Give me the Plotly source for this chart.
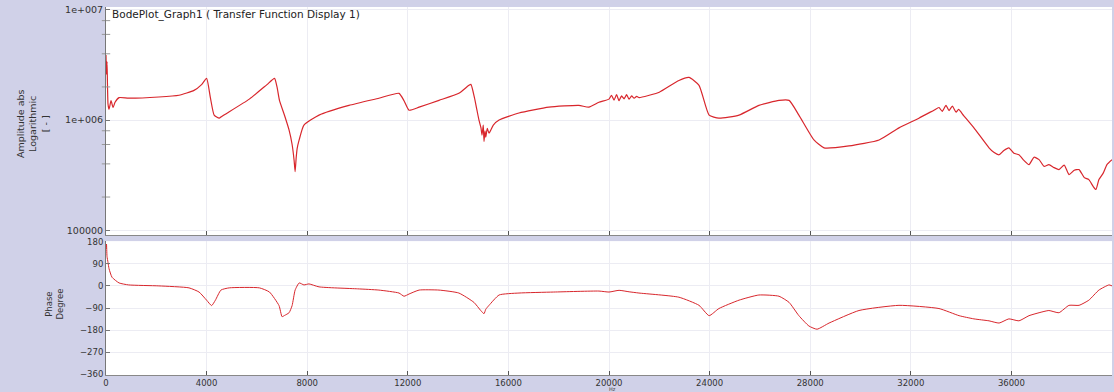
import plotly.graph_objects as go

# ---- magnitude response (linear frequency axis, log amplitude) ----
freq_mag = [
    0, 20, 40, 80, 120, 200, 280, 360, 520, 900,
    2100, 2900, 3500, 3800, 4000, 4150, 4300, 4500, 4600, 5700,
    6400, 6700, 6800, 6900, 7100, 7280, 7400, 7480, 7520, 7560,
    7600, 7680, 7870, 8470, 9660, 10850, 11650, 11850, 12050, 12450,
    13240, 14030, 14430, 14510, 14650, 14750, 14830, 14910, 14950, 15000,
    15030, 15070, 15100, 15160, 15230, 15400, 15630, 16420, 17610, 18800,
    19200, 19600, 20000, 20100, 20200, 20300, 20400, 20500, 20600, 20700,
    20800, 20900, 21000, 21100, 21200, 21600, 22000, 22780, 23180, 23580,
    23980, 24370, 25170, 25960, 26760, 27160, 27550, 28150, 28550, 29540,
    30740, 31530, 32320, 32920, 33120, 33250, 33400, 33520, 33650, 33800,
    33900, 34100, 34510, 35110, 35300, 35510, 35700, 35900, 36100, 36300,
    36500, 36700, 36900, 37100, 37300, 37490, 37700, 37890, 38100, 38290,
    38500, 38690, 38900, 39080, 39250, 39360, 39480, 39650, 39800, 40000,
]
amplitude = [
    3.9e6, 2.6e6, 3.4e6, 1.4e6, 1.25e6, 1.5e6, 1.3e6, 1.45e6, 1.6e6, 1.58e6,
    1.62e6, 1.68e6, 1.86e6, 2.1e6, 2.39e6, 1.6e6, 1.11e6, 1.04e6, 1.08e6, 1.55e6,
    2.1e6, 2.39e6, 2.0e6, 1.5e6, 1.1e6, 8.1e5, 6.0e5, 4.3e5, 3.4e5, 4.5e5,
    5.5e5, 6.6e5, 9.0e5, 1.11e6, 1.36e6, 1.58e6, 1.75e6, 1.5e6, 1.23e6, 1.31e6,
    1.51e6, 1.75e6, 2.07e6, 2.11e6, 1.6e6, 1.23e6, 1.0e6, 8.5e5, 7.3e5, 9.0e5,
    6.4e5, 8.0e5, 7.0e5, 8.4e5, 7.6e5, 9.0e5, 1.0e6, 1.16e6, 1.31e6, 1.36e6,
    1.31e6, 1.45e6, 1.55e6, 1.68e6, 1.52e6, 1.7e6, 1.5e6, 1.66e6, 1.56e6, 1.7e6,
    1.55e6, 1.66e6, 1.58e6, 1.64e6, 1.6e6, 1.68e6, 1.79e6, 2.29e6, 2.44e6, 2.07e6,
    1.11e6, 1.04e6, 1.11e6, 1.36e6, 1.51e6, 1.51e6, 1.11e6, 6.6e5, 5.6e5, 5.83e5,
    6.6e5, 8.5e5, 1.04e6, 1.23e6, 1.3e6, 1.2e6, 1.36e6, 1.22e6, 1.34e6, 1.18e6,
    1.25e6, 1.1e6, 8.5e5, 5.6e5, 5.1e5, 4.84e5, 5.3e5, 5.6e5, 5.0e5, 4.84e5,
    4.3e5, 3.94e5, 4.6e5, 4.37e5, 3.8e5, 3.94e5, 3.7e5, 3.55e5, 3.9e5, 3.2e5,
    3.5e5, 3.55e5, 3.0e5, 2.88e5, 2.5e5, 2.34e5, 2.88e5, 3.3e5, 3.94e5, 4.37e5,
]

# ---- phase response in degrees ----
freq_phase = [
    0, 20, 40, 80, 120, 240, 520, 900, 2100, 3300,
    3700, 4000, 4200, 4350, 4570, 4900, 6100, 6500, 6880, 7000,
    7100, 7280, 7400, 7520, 7680, 7870, 8070, 8470, 10000, 10850,
    11650, 11850, 12050, 12450, 13240, 14030, 14630, 14900, 15030, 15100,
    15230, 15630, 16420, 17800, 19600, 20000, 20400, 20800, 21190, 22780,
    23580, 23980, 24370, 25170, 25960, 26760, 27160, 27550, 27950, 28270,
    28750, 29940, 31530, 33120, 33920, 34510, 35110, 35510, 35900, 36300,
    36700, 37100, 37490, 37890, 38290, 38690, 39080, 39480, 39880, 40000,
]
phase_deg = [
    150, 170, 120, 95, 70, 35, 12, 4, 0, -8,
    -25, -58, -80, -58, -17, -8, -8, -25, -80, -125,
    -120, -109, -80, -17, 12, 4, 8, -4, -12, -17,
    -29, -42, -33, -17, -17, -29, -67, -100, -113, -95,
    -79, -37, -29, -25, -21, -25, -18, -24, -29, -46,
    -79, -121, -92, -58, -37, -42, -67, -121, -163, -176,
    -151, -100, -79, -92, -121, -134, -142, -151, -134, -142,
    -121, -109, -100, -109, -79, -79, -58, -17, 4, 0,
]

# axis ticks
x_ticks = [0, 4000, 8000, 12000, 16000, 20000, 24000, 28000, 32000, 36000, 40000]
mag_ticks = [1e5, 1e6, 1e7]
mag_tick_text = ["100000", "1e+006", "1e+007"]
mag_minor = [2e5, 4e5, 6e5, 8e5, 2e6, 4e6, 6e6, 8e6]
phase_ticks = [180, 90, 0, -90, -180, -270, -360]

W, H = 1114, 392
ML, MR, MT, MB = 106, 2, 4, 17
PW, PH = W - ML - MR, H - MT - MB

def px_x(x):
    return (x - ML) / PW

def px_y(y):
    return (H - MB - y) / PH

SIDE = "#d0d1e8"
EDGE = "#7c7fa6"
RED = "#d8262c"
FONT = "DejaVu Sans"

fig = go.Figure()
fig.add_trace(go.Scatter(x=freq_mag, y=amplitude, mode="lines",
                         line=dict(color=RED, width=1.2, shape="spline", smoothing=0.5),
                         xaxis="x", yaxis="y", showlegend=False))
fig.add_trace(go.Scatter(x=freq_phase, y=phase_deg, mode="lines",
                         line=dict(color=RED, width=1.0, shape="spline", smoothing=0.5),
                         xaxis="x2", yaxis="y2", showlegend=False))

# short minor tick marks on the amplitude axis
fig.add_trace(go.Scatter(x=[0] * len(mag_minor), y=mag_minor, mode="markers",
                         marker=dict(symbol="line-ew", size=6,
                                     line=dict(color="#999", width=1)),
                         xaxis="x", yaxis="y", showlegend=False, hoverinfo="skip",
                         cliponaxis=False))

grid = "#ececf3"
common_x = dict(range=[0, 40000], tickvals=x_ticks, showgrid=True, gridcolor=grid,
                zeroline=False, showline=True, linecolor="#888", mirror=False,
                ticks="inside", ticklen=4, tickcolor="#555")

fig.update_layout(
    width=W, height=H,
    margin=dict(l=ML, r=MR, t=MT, b=MB),
    paper_bgcolor=SIDE, plot_bgcolor="white",
    font=dict(family=FONT, size=9, color="#333"),
    xaxis=dict(common_x, domain=[0, 1], anchor="y", showticklabels=False),
    xaxis2=dict(common_x, domain=[0, 1], anchor="y2",
                ticktext=[str(v) for v in x_ticks],
                tickfont=dict(size=8.5, color="#333")),
    yaxis=dict(type="log", domain=[px_y(234), 1], anchor="x",
               range=[4.955, 7.027], tickvals=mag_ticks, ticktext=mag_tick_text,
               showgrid=True, gridcolor=grid, zeroline=False,
               showline=True, linecolor="#777", ticks="inside", ticklen=4,
               tickcolor="#777", tickfont=dict(size=9.5, color="#333")),
    yaxis2=dict(domain=[0, px_y(240)], anchor="x2", range=[-362, 182],
                tickvals=phase_ticks, showgrid=True, gridcolor=grid,
                zeroline=False, showline=True, linecolor="#777",
                ticks="inside", ticklen=4, tickcolor="#777",
                tickfont=dict(size=8.5, color="#333")),
)

fig.add_annotation(text="BodePlot_Graph1 ( Transfer Function Display 1)",
                   xref="paper", yref="paper", x=px_x(110), y=px_y(3),
                   xanchor="left", yanchor="top", showarrow=False,
                   font=dict(size=10.5, color="#222", family=FONT))
fig.add_annotation(text="Amplitude abs<br>Logarithmic<br>[ - ]",
                   xref="paper", yref="paper", x=px_x(33), y=px_y(122),
                   xanchor="center", yanchor="middle",
                   textangle=-90, showarrow=False,
                   font=dict(size=9.5, color="#333", family=FONT))
fig.add_annotation(text="Phase<br>Degree",
                   xref="paper", yref="paper", x=px_x(55), y=px_y(304),
                   xanchor="center", yanchor="middle",
                   textangle=-90, showarrow=False,
                   font=dict(size=8.5, color="#333", family=FONT))
fig.add_annotation(text="Hz", xref="paper", yref="paper",
                   x=px_x(612), y=px_y(389.5), yanchor="middle", showarrow=False,
                   font=dict(size=5, color="#444", family=FONT))

# frame lines around the panels
shapes = [
    dict(type="line", x0=px_x(0), x1=px_x(W), y0=px_y(236), y1=px_y(236),
         line=dict(color="#55576f", width=2.5)),
    dict(type="line", x0=px_x(0), x1=px_x(W), y0=px_y(1), y1=px_y(1),
         line=dict(color=EDGE, width=2)),
    dict(type="line", x0=px_x(0), x1=px_x(W), y0=px_y(391), y1=px_y(391),
         line=dict(color=EDGE, width=2)),
    dict(type="line", x0=px_x(5), x1=px_x(5), y0=px_y(0), y1=px_y(H),
         line=dict(color=EDGE, width=1.5)),
]
fig.update_layout(shapes=shapes)

fig.write_html("out.html")
